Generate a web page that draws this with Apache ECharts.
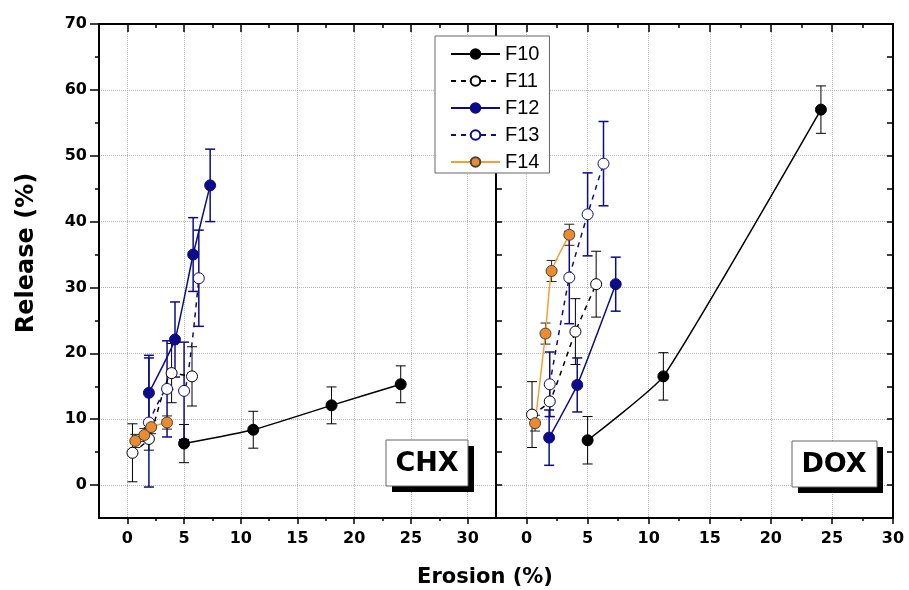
<!DOCTYPE html>
<html>
<head>
<meta charset="utf-8">
<title>Release vs Erosion</title>
<script src="https://cdn.jsdelivr.net/npm/echarts@6/dist/echarts.min.js"></script>
<style>
    html, body { margin: 0; padding: 0; background: #fff; }
    #main { width: 909px; height: 590px; }
</style>
</head>
<body>
<div id="main"></div>
<script>
    // tick values
    var xMajorL = [0, 5, 10, 15, 20, 25, 30];
    var xMajorR = [0, 5, 10, 15, 20, 25, 30];
    var xMinor = [2.5, 7.5, 12.5, 17.5, 22.5, 27.5];
    var yMajor = [0, 10, 20, 30, 40, 50, 60, 70];
    var yMinor = [5, 15, 25, 35, 45, 55, 65];
    var seriesNames = ['F10', 'F11', 'F12', 'F13', 'F14'];

    // CHX panel (left)
    var chxF10X = [5.0, 11.1, 18.0, 24.1];
    var chxF10Y = [6.3, 8.4, 12.1, 15.3];
    var chxF10Err = [2.9, 2.8, 2.8, 2.8];
    var chxF11X = [0.45, 1.9, 3.9, 5.7];
    var chxF11Y = [4.9, 7.0, 17.0, 16.5];
    var chxF11Err = [4.4, 1.7, 4.5, 4.5];
    var chxF12X = [1.9, 4.2, 5.8, 7.3];
    var chxF12Y = [14.0, 22.1, 35.0, 45.5];
    var chxF12Err = [5.7, 5.7, 5.6, 5.5];
    var chxF13X = [1.9, 3.5, 5.0, 6.3];
    var chxF13Y = [9.5, 14.6, 14.3, 31.4];
    var chxF13Err = [9.8, 7.3, 7.4, 7.3];
    var chxF14X = [0.7, 1.5, 2.1, 3.5];
    var chxF14Y = [6.7, 7.6, 8.8, 9.5];
    var chxF14Err = [1.0, 1.0, 1.0, 1.0];

    // DOX panel (right)
    var doxF10X = [5.0, 11.2, 24.1];
    var doxF10Y = [6.8, 16.5, 57.0];
    var doxF10Err = [3.6, 3.6, 3.6];
    var doxF11X = [0.45, 1.9, 4.0, 5.7];
    var doxF11Y = [10.7, 12.7, 23.3, 30.5];
    var doxF11Err = [5.0, 2.3, 5.0, 5.0];
    var doxF12X = [1.85, 4.15, 7.3];
    var doxF12Y = [7.2, 15.2, 30.5];
    var doxF12Err = [4.2, 4.1, 4.1];
    var doxF13X = [1.9, 3.5, 5.0, 6.3];
    var doxF13Y = [15.3, 31.5, 41.1, 48.8];
    var doxF13Err = [4.9, 7.0, 6.3, 6.4];
    var doxF14X = [0.7, 1.55, 2.05, 3.5];
    var doxF14Y = [9.4, 23.0, 32.5, 38.0];
    var doxF14Err = [1.2, 1.6, 1.6, 1.6];

    var navy = '#0c0c8a';
    var boldFont = 'DejaVu Sans';

    var styles = {
        F10: {line: '#000', dash: 'solid', fill: '#000', border: '#000', err: '#000', errW: 1},
        F11: {line: '#000', dash: [5, 5], fill: '#fff', border: '#000', err: '#000', errW: 1},
        F12: {line: navy, dash: 'solid', fill: navy, border: navy, err: navy, errW: 1.5},
        F13: {line: navy, dash: [5, 5], fill: '#fff', border: navy, err: navy, errW: 1.5},
        F14: {line: '#f2a03a', dash: 'solid', fill: '#ec8a2e', border: '#444', err: '#222', errW: 1}
    };

    function zip(xs, ys) {
        var out = [];
        for (var i = 0; i < xs.length; i++) out.push([xs[i], ys[i]]);
        return out;
    }

    function lineSeries(name, xs, ys, p) {
        var st = styles[name];
        return {
            name: name,
            type: 'line',
            xAxisIndex: p,
            yAxisIndex: p,
            z: 3,
            smooth: 0.15,
            symbol: 'circle',
            symbolSize: 11,
            showAllSymbol: true,
            lineStyle: {color: st.line, width: 1.5, type: st.dash},
            itemStyle: {color: st.fill, borderColor: st.border, borderWidth: 1},
            data: zip(xs, ys)
        };
    }

    function errSeries(name, xs, ys, es, p) {
        var st = styles[name];
        var data = [];
        for (var i = 0; i < xs.length; i++) data.push([xs[i], ys[i], es[i]]);
        return {
            type: 'custom',
            xAxisIndex: p,
            yAxisIndex: p,
            z: 2,
            silent: true,
            encode: {x: 0, y: 1},
            data: data,
            renderItem: function (params, api) {
                var x = api.value(0), y = api.value(1), e = api.value(2);
                var top = api.coord([x, y + e]);
                var bot = api.coord([x, y - e]);
                var hw = 5;
                var s = {stroke: st.err, lineWidth: st.errW};
                return {
                    type: 'group',
                    children: [
                        {type: 'line', shape: {x1: top[0], y1: top[1], x2: bot[0], y2: bot[1]}, style: s},
                        {type: 'line', shape: {x1: top[0] - hw, y1: top[1], x2: top[0] + hw, y2: top[1]}, style: s},
                        {type: 'line', shape: {x1: bot[0] - hw, y1: bot[1], x2: bot[0] + hw, y2: bot[1]}, style: s}
                    ]
                };
            }
        };
    }

    var axisLine = {show: true, onZero: false, lineStyle: {color: '#000', width: 2}};
    var splitDots = {show: true, lineStyle: {color: '#b4b4b4', type: 'dotted', width: 1}};
    var tickLabel = {fontFamily: boldFont, fontWeight: 'bold', fontSize: 16, color: '#000'};

    function xAx(grid, pos, max, ticks, inside, len, labels, split) {
        return {
            type: 'value', gridIndex: grid, position: pos, min: -2.5, max: max,
            axisLine: axisLine,
            axisTick: {show: true, inside: inside, length: len, customValues: ticks, lineStyle: {color: '#000', width: 1.5}},
            axisLabel: labels ? Object.assign({show: true, margin: 13, customValues: labels}, tickLabel) : {show: false},
            splitLine: split ? splitDots : {show: false}
        };
    }

    function yAx(grid, pos, ticks, inside, len, labels, split) {
        return {
            type: 'value', gridIndex: grid, position: pos, min: -5, max: 70,
            axisLine: axisLine,
            axisTick: ticks ? {show: true, inside: inside, length: len, customValues: ticks, lineStyle: {color: '#000', width: 1.5}} : {show: false},
            axisLabel: labels ? Object.assign({show: true, margin: 12, customValues: labels}, tickLabel) : {show: false},
            splitLine: split ? splitDots : {show: false}
        };
    }

    var gl = {left: 99, top: 24, width: 397, height: 494, outerBoundsMode: 'none'};
    var gr = {left: 496, top: 24, width: 397, height: 494, outerBoundsMode: 'none'};

    var series = [];
    var chx = [[chxF10X, chxF10Y, chxF10Err], [chxF11X, chxF11Y, chxF11Err], [chxF12X, chxF12Y, chxF12Err],
        [chxF13X, chxF13Y, chxF13Err], [chxF14X, chxF14Y, chxF14Err]];
    var dox = [[doxF10X, doxF10Y, doxF10Err], [doxF11X, doxF11Y, doxF11Err], [doxF12X, doxF12Y, doxF12Err],
        [doxF13X, doxF13Y, doxF13Err], [doxF14X, doxF14Y, doxF14Err]];
    for (var i = 0; i < seriesNames.length; i++) {
        series.push(lineSeries(seriesNames[i], chx[i][0], chx[i][1], 0));
        series.push(lineSeries(seriesNames[i], dox[i][0], dox[i][1], 1));
    }
    for (var j = 0; j < seriesNames.length; j++) {
        series.push(errSeries(seriesNames[j], chx[j][0], chx[j][1], chx[j][2], 0));
        series.push(errSeries(seriesNames[j], dox[j][0], dox[j][1], dox[j][2], 1));
    }

    var chart = echarts.init(document.getElementById('main'), null, {renderer: 'canvas'});
    chart.setOption({
        animation: false,
        backgroundColor: '#fff',
        grid: [gl, gr, Object.assign({}, gl), Object.assign({}, gr)],
        xAxis: [
            xAx(0, 'bottom', 32.5, xMajorL, false, 6, xMajorL, true),
            xAx(1, 'bottom', 30, xMajorR, false, 6, xMajorR, true),
            xAx(0, 'top', 32.5, xMajorL, true, 8, null, false),
            xAx(1, 'top', 30, xMajorR.slice(0, 6), true, 8, null, false),
            xAx(2, 'bottom', 32.5, xMinor, false, 3, null, false),
            xAx(3, 'bottom', 30, xMinor, false, 3, null, false),
            xAx(2, 'top', 32.5, xMinor, true, 4, null, false),
            xAx(3, 'top', 30, xMinor, true, 4, null, false)
        ],
        yAxis: [
            yAx(0, 'left', yMajor, false, 9, yMajor, true),
            yAx(1, 'left', yMajor.slice(0, 7), true, 6, null, true),
            yAx(0, 'right', null, false, 0, null, false),
            yAx(1, 'right', yMajor.slice(0, 7), true, 6, null, false),
            yAx(2, 'left', yMinor, false, 4, null, false),
            yAx(3, 'left', yMinor, true, 6, null, false),
            yAx(3, 'right', yMinor, true, 6, null, false)
        ],
        legend: {
            data: seriesNames,
            orient: 'vertical',
            left: 435,
            top: 36,
            padding: [8, 10, 1, 15],
            itemWidth: 49,
            itemHeight: 12,
            itemGap: 7,
            backgroundColor: '#fff',
            borderColor: '#666',
            borderWidth: 1,
            textStyle: {fontFamily: 'Liberation Sans', fontSize: 20, color: '#000', lineHeight: 20},
            z: 20
        },
        graphic: [
            {type: 'rect', z: 30, shape: {x: 392, y: 446, width: 82, height: 46}, style: {fill: '#000'}},
            {type: 'rect', z: 31, shape: {x: 386, y: 440, width: 82, height: 46}, style: {fill: '#fff', stroke: '#666', lineWidth: 1}},
            {type: 'text', z: 32, x: 427, y: 464, style: {text: 'CHX', font: 'bold 27px "DejaVu Sans"', fill: '#000', align: 'center', verticalAlign: 'middle'}},
            {type: 'rect', z: 30, shape: {x: 798, y: 447, width: 85, height: 46}, style: {fill: '#000'}},
            {type: 'rect', z: 31, shape: {x: 792, y: 441, width: 85, height: 46}, style: {fill: '#fff', stroke: '#666', lineWidth: 1}},
            {type: 'text', z: 32, x: 834, y: 465, style: {text: 'DOX', font: 'bold 27px "DejaVu Sans"', fill: '#000', align: 'center', verticalAlign: 'middle'}},
            {type: 'text', z: 32, x: 485, y: 578, style: {text: 'Erosion (%)', font: 'bold 21px "DejaVu Sans"', fill: '#000', align: 'center', verticalAlign: 'middle'}},
            {type: 'text', z: 32, x: 27, y: 253, rotation: Math.PI / 2, style: {text: 'Release (%)', font: 'bold 24px "DejaVu Sans"', fill: '#000', align: 'center', verticalAlign: 'middle'}}
        ],
        series: series
    });
</script>
</body>
</html>
